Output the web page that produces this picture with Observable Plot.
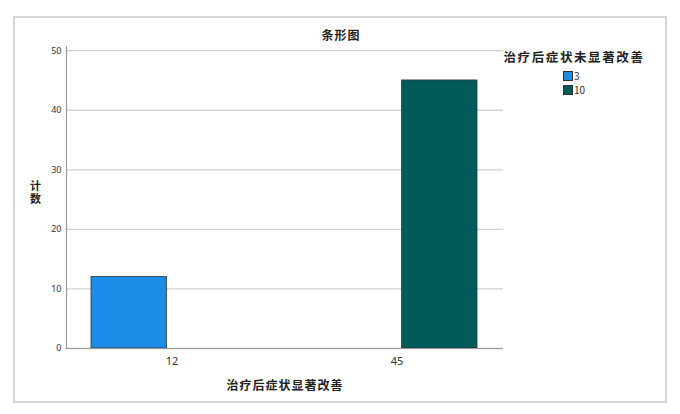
<!DOCTYPE html>
<html><head><meta charset="utf-8">
<script src="https://cdn.jsdelivr.net/npm/d3@7"></script>
<script src="https://cdn.jsdelivr.net/npm/@observablehq/plot@0.6"></script>
<style>
body{margin:0;background:#fff;}
#wrap{position:relative;width:680px;height:414px;font-family:"Noto Sans CJK SC","Noto Sans",sans-serif;color:#222;}
#wrap svg{position:absolute;left:0;top:0;}
.frame{position:absolute;left:13px;top:16px;width:650px;height:383px;border:2px solid #d6d6d6;}
.lbl{position:absolute;transform:translate(-50%,-50%);white-space:nowrap;font-weight:bold;font-size:12px;letter-spacing:1px;color:#222;line-height:1;}
.leg{position:absolute;font-size:10px;color:#333;line-height:1;}
.sw{position:absolute;width:8px;height:8px;border:1px solid #333;}
</style>
</head><body>
<div id="wrap"><div class="frame"></div></div>
<script>
const title = "条形图";
const xTitle = "治疗后症状显著改善";
const yTitle = "计数";
const legendTitle = "治疗后症状未显著改善";
const categories = ["12", "45"];
const seriesNames = ["3", "10"];
const counts3 = [12, 0];
const counts10 = [0, 45];
const colors = ["#1b8de8", "#035a5a"];
const yTicks = [0, 10, 20, 30, 40, 50];

const rows = [];
categories.forEach((c, i) => {
  rows.push({cat: c, series: seriesNames[0], count: counts3[i]});
  rows.push({cat: c, series: seriesNames[1], count: counts10[i]});
});

const chart = Plot.plot({
  width: 680, height: 414,
  marginLeft: 66, marginRight: 177, marginTop: 46, marginBottom: 66,
  style: {fontFamily: "'Noto Sans','Noto Sans CJK SC',sans-serif", fontSize: "9px", color: "#333", background: "transparent"},
  x: {domain: categories, paddingInner: 0.283, paddingOuter: 0.11, axis: null},
  y: {domain: [0, 50.7], axis: null},
  color: {domain: seriesNames, range: colors},
  marks: [
    Plot.gridY(yTicks, {stroke: "#d2d2d2", strokeOpacity: 1, strokeWidth: 1.3}),
    Plot.frame({anchor: "left", stroke: "#999", strokeWidth: 1.2}),
    Plot.barY(rows.filter(d => d.series === seriesNames[0] && d.count > 0),
      {x: "cat", y: "count", fill: "series", stroke: "#333", strokeWidth: 0.8, insetRight: 85.6}),
    Plot.barY(rows.filter(d => d.series === seriesNames[1] && d.count > 0),
      {x: "cat", y: "count", fill: "series", stroke: "#333", strokeWidth: 0.8, insetLeft: 85.6}),
    Plot.ruleY([0], {stroke: "#999", strokeWidth: 1.2}),
    Plot.axisY({ticks: yTicks, tickSize: 0, tickPadding: 5, fill: "#333", label: null, fontSize: "9px"}),
    Plot.axisX({tickSize: 0, tickPadding: 9, fill: "#333", label: null, fontSize: "11px"})
  ]
});
const wrap = document.getElementById("wrap");
wrap.appendChild(chart);

function addLabel(text, x, y, extra) {
  const d = document.createElement("div");
  d.className = "lbl";
  d.textContent = text;
  d.style.left = x + "px";
  d.style.top = y + "px";
  if (extra) Object.assign(d.style, extra);
  wrap.appendChild(d);
}
addLabel(title, 341, 35);
addLabel(xTitle, 285, 385);
addLabel(yTitle, 35, 193, {writingMode: "vertical-rl", textOrientation: "upright", letterSpacing: "2px", fontSize: "11px"});
addLabel(legendTitle, 574, 57, {fontSize: "12.5px", letterSpacing: "1.6px"});

seriesNames.forEach((s, i) => {
  const sw = document.createElement("div");
  sw.className = "sw";
  sw.style.left = "563px";
  sw.style.top = (71 + i * 14) + "px";
  sw.style.background = colors[i];
  wrap.appendChild(sw);
  const t = document.createElement("div");
  t.className = "leg";
  t.textContent = s;
  t.style.left = "574px";
  t.style.top = (71 + i * 14) + "px";
  wrap.appendChild(t);
});
</script>
</body></html>
